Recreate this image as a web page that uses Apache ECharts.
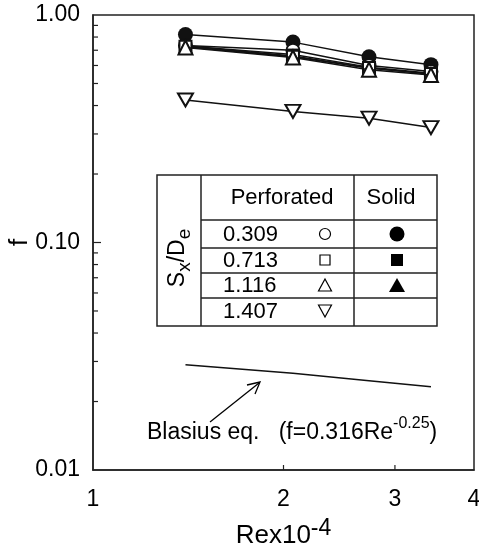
<!DOCTYPE html>
<html><head><meta charset="utf-8">
<script src="https://cdn.jsdelivr.net/npm/echarts@6/dist/echarts.min.js"></script>
<style>html,body{margin:0;padding:0;background:#fff}#c{width:479px;height:545px}</style>
</head><body><div id="c"></div>
<script>
// ---- data ----
const reX = [1.40, 2.07, 2.73, 3.42];
const solidCircle = [0.82, 0.76, 0.655, 0.605];
const openCircle = [0.735, 0.70, 0.60, 0.565];
const solidSquare = [0.73, 0.67, 0.59, 0.555];
const openSquare = [0.725, 0.655, 0.585, 0.55];
const solidTriangle = [0.73, 0.66, 0.585, 0.55];
const openTriangle = [0.72, 0.65, 0.575, 0.545];
const openDownTriangle = [0.423, 0.377, 0.352, 0.32];
const blasius = [0.029, 0.0266, 0.0247, 0.0232];
const xTickLabels = [1, 2, 3, 4];
const xInnerTicks = [2, 3];
const yMinorTicks = [0.02,0.03,0.04,0.05,0.06,0.07,0.08,0.09,0.2,0.3,0.4,0.5,0.6,0.7,0.8,0.9];
const yMajorTicks = [0.1];
const tableRows = ['0.309', '0.713', '1.116', '1.407'];

const FONT = 'Liberation Sans, Arial, sans-serif';
const INK = '#111';
const pairs = ys => reX.map((x, i) => [x, ys[i]]);

function lineSeries(name, ys, symbol, filled, size, z) {
  return {
    name, type: 'line', data: pairs(ys), symbol, symbolSize: size, z: z || 2,
    lineStyle: { color: INK, width: 1.5 },
    itemStyle: { color: filled ? INK : '#fff', borderColor: INK, borderWidth: filled ? 0 : 2 },
    emphasis: { disabled: true }, animation: false
  };
}

const downTri = 'path://M0,0 L10,0 L5,9 Z';

const chart = echarts.init(document.getElementById('c'), null, { renderer: 'canvas' });
const option = {
  animation: false,
  backgroundColor: '#fff',
  grid: { left: 93, right: 5, top: 15, bottom: 75, containLabel: false, outerBoundsMode: 'none', show: true, borderColor: '#222', borderWidth: 1.5, backgroundColor: 'transparent' },
  xAxis: {
    type: 'log', logBase: 10, min: 1, max: 4,
    axisLine: { lineStyle: { color: '#222', width: 1.5 } },
    axisTick: { show: false }, axisLabel: { show: false }, splitLine: { show: false },
    name: '{a|Rex10}{b|-4}', nameLocation: 'middle', nameGap: 47, nameMoveOverlap: false,
    nameTextStyle: {
      rich: {
        a: { fontFamily: FONT, fontSize: 26, color: '#000', verticalAlign: 'bottom', lineHeight: 32 },
        b: { fontFamily: FONT, fontSize: 23, color: '#000', verticalAlign: 'top', lineHeight: 32 }
      }
    }
  },
  yAxis: {
    type: 'log', logBase: 10, min: 0.01, max: 1,
    axisLine: { lineStyle: { color: '#222', width: 1.5 } },
    axisTick: { show: false },
    axisLabel: { formatter: v => v.toFixed(2), fontFamily: FONT, fontSize: 23, color: '#000', margin: 13 },
    splitLine: { show: false },
    name: 'f', nameLocation: 'middle', nameGap: 60, nameRotate: 90, nameMoveOverlap: false,
    nameTextStyle: { fontFamily: FONT, fontSize: 26, color: '#000' }
  },
  series: [
    lineSeries('solid circle', solidCircle, 'circle', true, 15, 2),
    lineSeries('open circle', openCircle, 'circle', false, 13, 3),
    lineSeries('solid square', solidSquare, 'rect', true, 12, 3),
    lineSeries('open square', openSquare, 'rect', false, 12, 4),
    lineSeries('solid triangle', solidTriangle, 'triangle', true, 14, 4),
    lineSeries('open triangle', openTriangle, 'triangle', false, 14, 5),
    lineSeries('open down triangle', openDownTriangle, downTri, false, [15, 13], 5),
    { name: 'Blasius', type: 'line', data: pairs(blasius), symbol: 'none', lineStyle: { color: INK, width: 1.5 }, z: 2 },
    // axis ticks and labels drawn through the axes' scales
    {
      type: 'custom', clip: false, silent: true, z: 10,
      data: xInnerTicks.map(v => [v, 0.01]),
      renderItem: (params, api) => {
        const p = api.coord([api.value(0), api.value(1)]);
        return { type: 'line', shape: { x1: p[0], y1: p[1], x2: p[0], y2: p[1] - 5 }, style: { stroke: '#222', lineWidth: 1.2 } };
      }
    },
    {
      type: 'custom', clip: false, silent: true, z: 10,
      data: yMinorTicks.map(v => [1, v]),
      renderItem: (params, api) => {
        const p = api.coord([api.value(0), api.value(1)]);
        return { type: 'line', shape: { x1: p[0], y1: p[1], x2: p[0] + 5, y2: p[1] }, style: { stroke: '#222', lineWidth: 1.2 } };
      }
    },
    {
      type: 'custom', clip: false, silent: true, z: 10,
      data: yMajorTicks.map(v => [1, v]),
      renderItem: (params, api) => {
        const p = api.coord([api.value(0), api.value(1)]);
        return { type: 'line', shape: { x1: p[0], y1: p[1], x2: p[0] + 8, y2: p[1] }, style: { stroke: '#222', lineWidth: 1.2 } };
      }
    },
    {
      type: 'custom', clip: false, silent: true, z: 10,
      data: xTickLabels.map(v => [v, 0.01]),
      renderItem: (params, api) => {
        const p = api.coord([api.value(0), api.value(1)]);
        return { type: 'text', x: p[0], y: p[1] + 30, style: { text: String(api.value(0)), fontFamily: FONT, fontSize: 23, fill: '#000', align: 'center', verticalAlign: 'middle' } };
      }
    }
  ],
  graphic: [
    // legend table
    { type: 'rect', shape: { x: 157, y: 175, width: 280, height: 151 }, style: { fill: 'none', stroke: '#222', lineWidth: 1.5 }, z: 20 },
    { type: 'line', shape: { x1: 201, y1: 175, x2: 201, y2: 326 }, style: { stroke: '#222', lineWidth: 1.5 }, z: 20 },
    { type: 'line', shape: { x1: 354, y1: 175, x2: 354, y2: 326 }, style: { stroke: '#222', lineWidth: 1.5 }, z: 20 },
    { type: 'line', shape: { x1: 201, y1: 220, x2: 437, y2: 220 }, style: { stroke: '#222', lineWidth: 1.5 }, z: 20 },
    { type: 'line', shape: { x1: 201, y1: 248, x2: 437, y2: 248 }, style: { stroke: '#222', lineWidth: 1.5 }, z: 20 },
    { type: 'line', shape: { x1: 201, y1: 273, x2: 437, y2: 273 }, style: { stroke: '#222', lineWidth: 1.5 }, z: 20 },
    { type: 'line', shape: { x1: 201, y1: 298, x2: 437, y2: 298 }, style: { stroke: '#222', lineWidth: 1.5 }, z: 20 },
    { type: 'text', x: 282, y: 198, style: { text: 'Perforated', fontFamily: FONT, fontSize: 22, fill: '#000', align: 'center', verticalAlign: 'middle' }, z: 20 },
    { type: 'text', x: 391, y: 198, style: { text: 'Solid', fontFamily: FONT, fontSize: 22, fill: '#000', align: 'center', verticalAlign: 'middle' }, z: 20 },
    ...tableRows.map((t, i) => ({ type: 'text', x: 223, y: 235 + i * 25.5, style: { text: t, fontFamily: FONT, fontSize: 22, fill: '#000', align: 'left', verticalAlign: 'middle' }, z: 20 })),
    { type: 'circle', shape: { cx: 325, cy: 234, r: 5.5 }, style: { fill: '#fff', stroke: '#000', lineWidth: 1.2 }, z: 20 },
    { type: 'rect', shape: { x: 320, y: 255, width: 10, height: 10 }, style: { fill: '#fff', stroke: '#000', lineWidth: 1.2 }, z: 20 },
    { type: 'polygon', shape: { points: [[325, 279], [331.5, 291], [318.5, 291]] }, style: { fill: '#fff', stroke: '#000', lineWidth: 1.2 }, z: 20 },
    { type: 'polygon', shape: { points: [[318.5, 305], [331.5, 305], [325, 317]] }, style: { fill: '#fff', stroke: '#000', lineWidth: 1.2 }, z: 20 },
    { type: 'circle', shape: { cx: 397, cy: 234, r: 7.5 }, style: { fill: '#000' }, z: 20 },
    { type: 'rect', shape: { x: 391, y: 254, width: 12, height: 12 }, style: { fill: '#000' }, z: 20 },
    { type: 'polygon', shape: { points: [[397, 278], [405, 292], [389, 292]] }, style: { fill: '#000' }, z: 20 },
    {
      type: 'text', x: 180, y: 258, rotation: Math.PI / 2, z: 20,
      style: {
        text: '{m|S}{s|x}{m|/D}{s|e}', align: 'center', verticalAlign: 'middle',
        rich: {
          m: { fontFamily: FONT, fontSize: 23, fill: '#000', verticalAlign: 'top', lineHeight: 28 },
          s: { fontFamily: FONT, fontSize: 19, fill: '#000', verticalAlign: 'bottom', lineHeight: 28 }
        }
      }
    },
    // Blasius annotation
    {
      type: 'text', x: 147, y: 430, z: 20,
      style: {
        text: '{m|Blasius eq.   (f=0.316Re}{s|-0.25}{m|)}', align: 'left', verticalAlign: 'middle',
        rich: {
          m: { fontFamily: FONT, fontSize: 23, fill: '#000', verticalAlign: 'bottom', lineHeight: 28 },
          s: { fontFamily: FONT, fontSize: 16, fill: '#000', verticalAlign: 'top', lineHeight: 28 }
        }
      }
    },
    { type: 'line', shape: { x1: 210, y1: 422, x2: 259, y2: 383 }, style: { stroke: '#000', lineWidth: 1.3 }, z: 20 },
    { type: 'polyline', shape: { points: [[247, 385], [260, 382], [255, 394]] }, style: { stroke: '#000', lineWidth: 1.3, fill: 'none' }, z: 20 }
  ]
};
chart.setOption(option);
</script></body></html>
